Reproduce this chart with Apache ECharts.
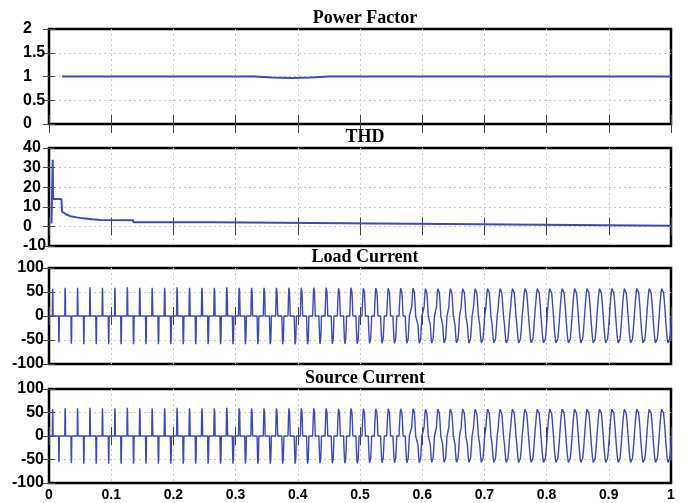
<!DOCTYPE html>
<html>
<head>
<meta charset="utf-8">
<script src="https://cdn.jsdelivr.net/npm/echarts@6/dist/echarts.min.js"></script>
<style>
  html, body { margin: 0; padding: 0; background: #fff; }
  #chart { width: 688px; height: 503px; }
</style>
</head>
<body>
<div id="chart"></div>
<script>
// ---- Power factor trace (time in s) ----
const pfTime  = [0.021, 0.33, 0.36, 0.39, 0.42, 0.45, 1.0];
const pfValue = [1.00, 1.00, 0.98, 0.97, 0.98, 1.00, 1.00];

// ---- THD (%) trace ----
const thdTime  = [0.004, 0.006, 0.0065, 0.020, 0.021, 0.027, 0.034, 0.045, 0.055, 0.070, 0.082, 0.135, 0.136, 0.264, 0.265, 0.688, 0.689, 1.0];
const thdValue = [1.5, 34, 14, 14, 7.6, 6.2, 5.2, 4.6, 4.1, 3.6, 3.3, 3.2, 2.1, 2.1, 1.1, 1.1, 0.3, 0.3];

// ---- Currents, one entry per 50 Hz cycle (0.02 s) ----
// positive pulse peak (A), negative pulse peak (A), conduction width of each half-cycle pulse (ms)
const loadPeakPos = [60, 62, 62, 63, 62, 62, 63, 62, 62, 62, 63, 62, 62, 62, 63, 62, 62, 62, 62, 62,
                     62, 62, 62, 61, 62, 61, 61, 61, 61, 61, 60, 60, 60, 60, 60, 60, 60, 60, 60, 60,
                     60, 60, 60, 60, 60, 60, 60, 60, 60, 60];
const loadPeakNeg = [-58, -61, -62, -62, -62, -62, -62, -62, -62, -62, -62, -62, -62, -62, -62, -62, -62, -62, -62, -62,
                     -62, -61, -61, -61, -61, -60, -60, -60, -60, -60, -59, -59, -59, -59, -59, -59, -59, -59, -59, -59,
                     -59, -59, -59, -59, -59, -59, -59, -59, -59, -59];
const loadWidth   = [1.2, 1.3, 1.3, 1.4, 1.4, 1.5, 1.6, 1.6, 1.7, 1.8, 1.9, 2.0, 2.2, 2.3, 2.5, 2.7, 2.9, 3.1, 3.3, 3.5,
                     3.8, 4.1, 4.4, 4.8, 5.1, 5.5, 5.9, 6.2, 6.6, 7.0, 7.4, 7.8, 8.1, 8.4, 8.7, 9.0, 9.3, 9.5, 9.7, 9.9,
                     10, 10, 10, 10, 10, 10, 10, 10, 10, 10];
const loadEnd = -52;

const sourcePeakPos = [60, 62, 62, 63, 62, 62, 63, 62, 62, 62, 63, 62, 62, 62, 63, 62, 62, 62, 62, 62,
                       62, 62, 62, 61, 62, 61, 61, 61, 61, 61, 60, 60, 60, 60, 60, 60, 60, 60, 60, 60,
                       60, 60, 60, 60, 60, 60, 60, 60, 60, 60];
const sourcePeakNeg = [-58, -61, -62, -62, -62, -62, -62, -62, -62, -62, -62, -62, -62, -62, -62, -62, -62, -62, -62, -62,
                       -62, -61, -61, -61, -61, -60, -60, -60, -60, -60, -59, -59, -59, -59, -59, -59, -59, -59, -59, -59,
                       -59, -59, -59, -59, -59, -59, -59, -59, -59, -59];
const sourceWidth   = [1.2, 1.3, 1.3, 1.4, 1.4, 1.5, 1.6, 1.6, 1.7, 1.8, 1.9, 2.0, 2.2, 2.3, 2.5, 2.7, 2.9, 3.1, 3.3, 3.5,
                       3.8, 4.1, 4.4, 4.8, 5.1, 5.5, 5.9, 6.2, 6.6, 7.0, 7.4, 7.8, 8.1, 8.4, 8.7, 9.0, 9.3, 9.5, 9.7, 9.9,
                       10, 10, 10, 10, 10, 10, 10, 10, 10, 10];
const sourceEnd = -52;

// normalised shape of one conduction pulse (half-sine hump)
const pulseShape = [0, 0.31, 0.59, 0.81, 0.95, 1, 0.95, 0.81, 0.59, 0.31, 0];

const CYCLE = 0.02;         // s
const PULSE_CENTER = 0.006; // s after cycle start, positive pulse

function zipXY(xs, ys) { return xs.map((x, i) => [x, ys[i]]); }

function buildCurrent(pos, neg, widthMs, endValue) {
  const pts = [[0, 0]];
  for (let k = 0; k < pos.length; k++) {
    const w = widthMs[k] / 1000;
    [[pos[k], 0], [neg[k], CYCLE / 2]].forEach(([amp, shift]) => {
      const c = k * CYCLE + PULSE_CENTER + shift;
      const start = c - w / 2;
      const n = pulseShape.length - 1;
      pulseShape.forEach((s, i) => {
        const t = start + (i * w) / n;
        if (t <= 1) pts.push([t, amp * s]);
      });
    });
  }
  pts.push([1, 0]);
  pts.push([1, endValue]);
  return pts;
}

const pfData = zipXY(pfTime, pfValue);
const thdData = zipXY(thdTime, thdValue);
const loadData = buildCurrent(loadPeakPos, loadPeakNeg, loadWidth, loadEnd);
const sourceData = buildCurrent(sourcePeakPos, sourcePeakNeg, sourceWidth, sourceEnd);

const LINE_COLOR = '#3d4bb3';
const panels = [
  { title: 'Power Factor',   top: 29,  height: 95, min: 0,    max: 2,   interval: 0.5, align: 'left',  margin: 26, data: pfData,     lw: 2 },
  { title: 'THD',            top: 148, height: 98, min: -10,  max: 40,  interval: 10,  align: 'left',  margin: 26, data: thdData,    lw: 2 },
  { title: 'Load Current',   top: 268, height: 96, min: -100, max: 100, interval: 50,  align: 'right', margin: 5,  data: loadData,   lw: 1.4 },
  { title: 'Source Current', top: 389, height: 94, min: -100, max: 100, interval: 50,  align: 'right', margin: 5,  data: sourceData, lw: 1.4 }
];

const grid = [], xAxis = [], yAxis = [], series = [], title = [];
const tickStyle = { color: '#444', width: 1 };
const gridLine = { show: true, showMinLine: false, showMaxLine: false,
                   lineStyle: { color: '#c8c8c8', type: [2, 3], width: 1 } };

panels.forEach((p, i) => {
  grid.push({ left: 49, right: 17, top: p.top, height: p.height, show: true,
              borderColor: '#000', borderWidth: 2.5, backgroundColor: '#fff' });
  title.push({ text: p.title, left: 360, top: p.top - 25, textAlign: 'center',
               textStyle: { fontFamily: 'Liberation Serif', fontWeight: 'bold', fontSize: 18, color: '#000' } });
  // bottom time axis
  xAxis.push({ type: 'value', gridIndex: i, min: 0, max: 1, interval: 0.1, position: 'bottom',
               axisLine: { show: false },
               axisTick: { show: true, inside: true, length: 9, lineStyle: tickStyle },
               axisLabel: { show: i === panels.length - 1, color: '#000', fontFamily: 'Liberation Sans',
                            fontWeight: 'bold', fontSize: 14, margin: 5 },
               splitLine: gridLine });
  // top time axis (ticks only)
  xAxis.push({ type: 'value', gridIndex: i, min: 0, max: 1, interval: 0.1, position: 'top',
               axisLine: { show: false },
               axisTick: { show: true, inside: true, length: 9, lineStyle: tickStyle },
               axisLabel: { show: false }, splitLine: { show: false } });
  // left value axis
  yAxis.push({ type: 'value', gridIndex: i, min: p.min, max: p.max, interval: p.interval, position: 'left',
               axisLine: { show: false },
               axisTick: { show: true, inside: true, length: 6, lineStyle: tickStyle },
               axisLabel: { color: '#000', fontFamily: 'Liberation Sans', fontWeight: 'bold', fontSize: 16,
                            align: p.align, margin: p.margin },
               splitLine: gridLine });
  // right value axis (ticks only)
  yAxis.push({ type: 'value', gridIndex: i, min: p.min, max: p.max, interval: p.interval, position: 'right',
               axisLine: { show: false },
               axisTick: { show: true, inside: true, length: 6, lineStyle: tickStyle },
               axisLabel: { show: false }, splitLine: { show: false } });
  series.push({ type: 'line', xAxisIndex: 2 * i, yAxisIndex: 2 * i, data: p.data,
                showSymbol: false, symbol: 'none', sampling: null, silent: true,
                lineStyle: { color: LINE_COLOR, width: p.lw } });
});

const chart = echarts.init(document.getElementById('chart'), null, { renderer: 'canvas' });
chart.setOption({ backgroundColor: '#fff', animation: false, title, grid, xAxis, yAxis, series });
</script>
</body>
</html>
